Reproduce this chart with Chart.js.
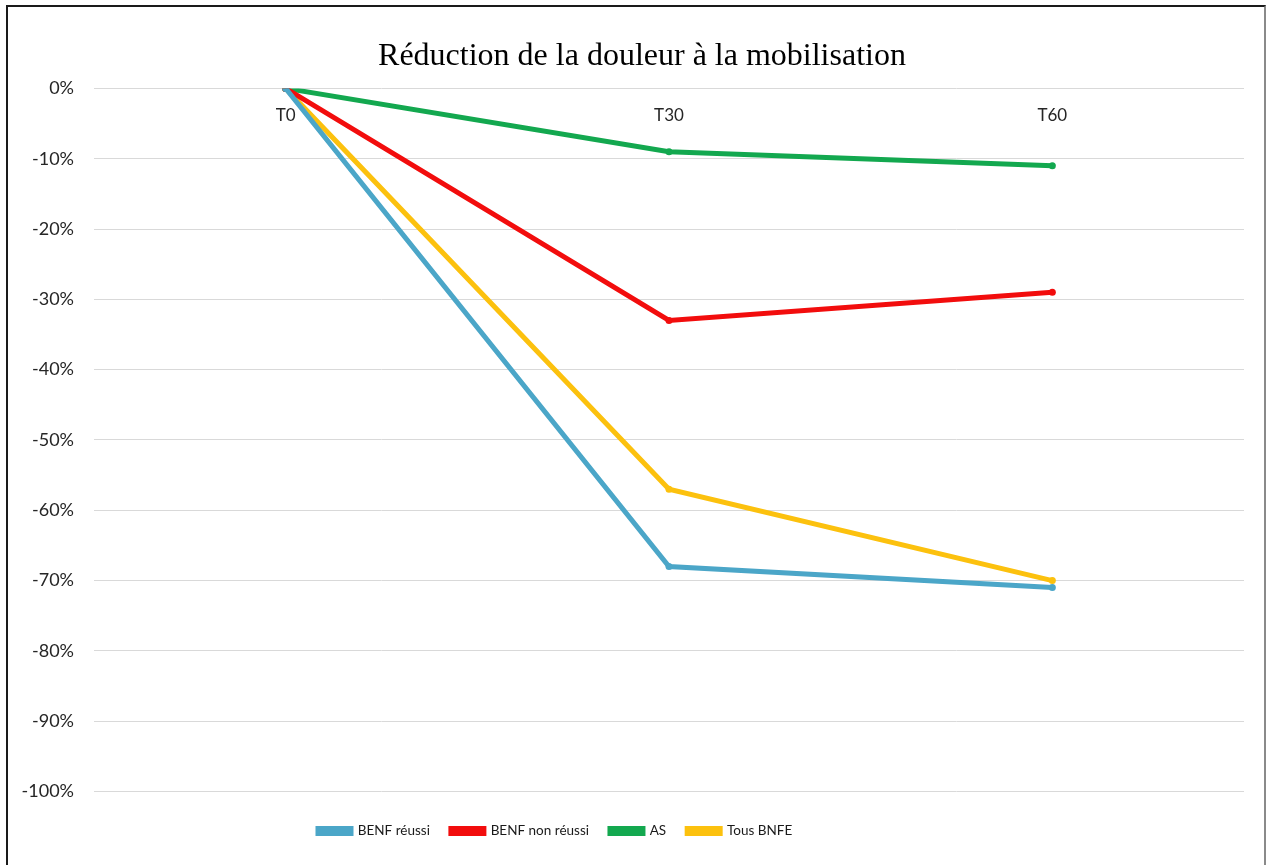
<!DOCTYPE html>
<html lang="fr">
<head>
<meta charset="utf-8">
<title>Réduction de la douleur à la mobilisation</title>
<script src="https://cdn.jsdelivr.net/npm/chart.js@4.4.1/dist/chart.umd.min.js"></script>
<style>
  html, body { margin: 0; padding: 0; background: #ffffff; }
  body { width: 1269px; height: 865px; position: relative; overflow: hidden; }
  #frame {
    position: absolute; left: 6px; top: 5px; width: 1260px; height: 862px;
    border-left: 2px solid #1a1a1a; border-top: 2px solid #1a1a1a; border-right: 2px solid #8a8a8a;
    box-sizing: border-box; background: #ffffff;
  }
  #wrap { position: absolute; left: 2px; top: 1px; width: 1256px; height: 857px; }
</style>
</head>
<body>
<div id="frame"><div id="wrap"><canvas id="chart"></canvas></div></div>
<script>
// Time points
const timePoints = ['T0', 'T30', 'T60'];

// Pain reduction on mobilisation, in % relative to T0
const benfReussi = [0, -68, -71];
const benfNonReussi = [0, -33, -29];
const as = [0, -9, -11];
const tousBnfe = [0, -57, -70];

const seriesNames = ['BENF réussi', 'BENF non réussi', 'AS', 'Tous BNFE'];
const seriesColors = ['#4BA6C8', '#F20D0D', '#13A84F', '#FCC10E'];

// Y axis range and step, in %
const yMin = -100;
const yMax = 0;
const yStep = 10;

const labelFont = "Lato, 'Open Sans', sans-serif";

function makeDataset(i, values) {
  return {
    label: seriesNames[i],
    data: values,
    borderColor: seriesColors[i],
    backgroundColor: seriesColors[i],
    borderWidth: 5,
    pointRadius: 3.5,
    pointBorderWidth: 0,
    pointBackgroundColor: seriesColors[i],
    tension: 0,
    fill: false
  };
}

// Places the legend row (first swatch at legendStartX, row centred on legendCenterY)
// and nudges the title to the right by titleShift pixels.
const legendStartX = 308;
const legendCenterY = 823;
const titleShift = 15;
const blockPlacer = {
  id: 'blockPlacer',
  afterLayout(chart) {
    const lg = chart.legend;
    if (lg && lg.lineWidths) {
      const pad = lg.options.labels.padding;
      lg.right = 2 * legendStartX - lg.left - pad + lg.lineWidths[0];
      const h = lg.legendHitBoxes.length ? lg.legendHitBoxes[0].height : 16;
      const dy = legendCenterY - (lg.top + pad + h / 2);
      lg.top += dy;
      lg.bottom += dy;
    }
    const tb = chart.titleBlock;
    if (tb) {
      tb.left += 2 * titleShift;
    }
  }
};

new Chart(document.getElementById('chart'), {
  type: 'line',
  data: {
    labels: timePoints,
    datasets: [
      makeDataset(0, benfReussi),
      makeDataset(1, benfNonReussi),
      makeDataset(2, as),
      makeDataset(3, tousBnfe)
    ]
  },
  plugins: [blockPlacer],
  options: {
    responsive: true,
    maintainAspectRatio: false,
    animation: false,
    layout: { padding: { left: 0, right: 22, top: 0, bottom: 29 } },
    plugins: {
      title: {
        display: true,
        text: 'Réduction de la douleur à la mobilisation',
        color: '#000000',
        font: { family: "'Liberation Serif', 'Times New Roman', serif", size: 32, weight: 'normal' },
        padding: { top: 29, bottom: 13 }
      },
      legend: {
        position: 'bottom',
        labels: {
          color: '#1a1a1a',
          font: { family: labelFont, size: 13.5 },
          boxWidth: 33,
          boxHeight: 5,
          padding: 21
        }
      },
      tooltip: { enabled: false }
    },
    scales: {
      x: {
        type: 'category',
        position: { y: 0 },
        offset: true,
        grid: { display: false },
        border: { display: false },
        ticks: {
          color: '#262626',
          font: { family: labelFont, size: 17 },
          padding: 9
        }
      },
      y: {
        min: yMin,
        max: yMax,
        afterFit: function (scale) { scale.width = 84; },
        grid: { color: '#d9d9d9', lineWidth: 1, drawTicks: false },
        border: { display: false },
        ticks: {
          stepSize: yStep,
          color: '#262626',
          font: { family: labelFont, size: 18 },
          padding: 20,
          callback: function (v) { return v + '%'; }
        }
      }
    }
  }
});
</script>
</body>
</html>
